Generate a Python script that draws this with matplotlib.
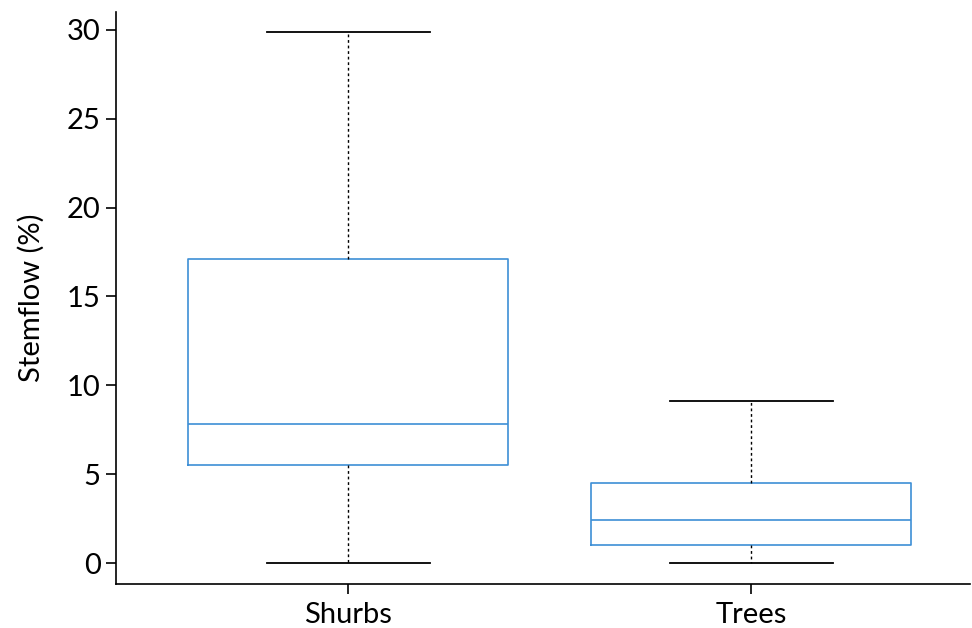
import matplotlib
matplotlib.use("Agg")
import matplotlib.pyplot as plt

categories = ["Shurbs", "Trees"]
whislo = [0.0, 0.0]
q1 = [5.5, 1.0]
med = [7.85, 2.4]
q3 = [17.1, 4.5]
whishi = [29.85, 9.1]
yticks = [0, 5, 10, 15, 20, 25, 30]

plt.rcParams['font.family'] = ['Lato', 'DejaVu Sans']

fig = plt.figure(figsize=(9.72, 6.28), dpi=100)
ax = fig.add_axes([116/972, (628-583.5)/628, (970-116)/972, (583.5-12)/628])

stats = []
for i, c in enumerate(categories):
    stats.append(dict(label=c, whislo=whislo[i], q1=q1[i], med=med[i], q3=q3[i], whishi=whishi[i], fliers=[]))

blue = "#3d8fd6"
ax.bxp(stats, positions=[1, 2], widths=0.795, capwidths=0.405, showfliers=False,
       boxprops=dict(color=blue, linewidth=1.2),
       medianprops=dict(color=blue, linewidth=1.2),
       whiskerprops=dict(color="black", linestyle=(0, (2, 2)), linewidth=1.0),
       capprops=dict(color="black", linewidth=1.3))

ax.set_xlim(0.424, 2.543)
ax.set_ylim(-1.15, 31.0)
ax.set_yticks(yticks)
ax.set_yticklabels([str(t) for t in yticks])
ax.spines['top'].set_visible(False)
ax.spines['right'].set_visible(False)
ax.spines['left'].set_linewidth(1.2)
ax.spines['bottom'].set_linewidth(1.2)
ax.tick_params(axis='both', direction='out', length=7, width=1.2, labelsize=21, pad=4)
ax.tick_params(axis='x', pad=6)
ax.set_ylabel("Stemflow (%)", fontsize=21, labelpad=16)

fig.savefig("out.png", dpi=100)
